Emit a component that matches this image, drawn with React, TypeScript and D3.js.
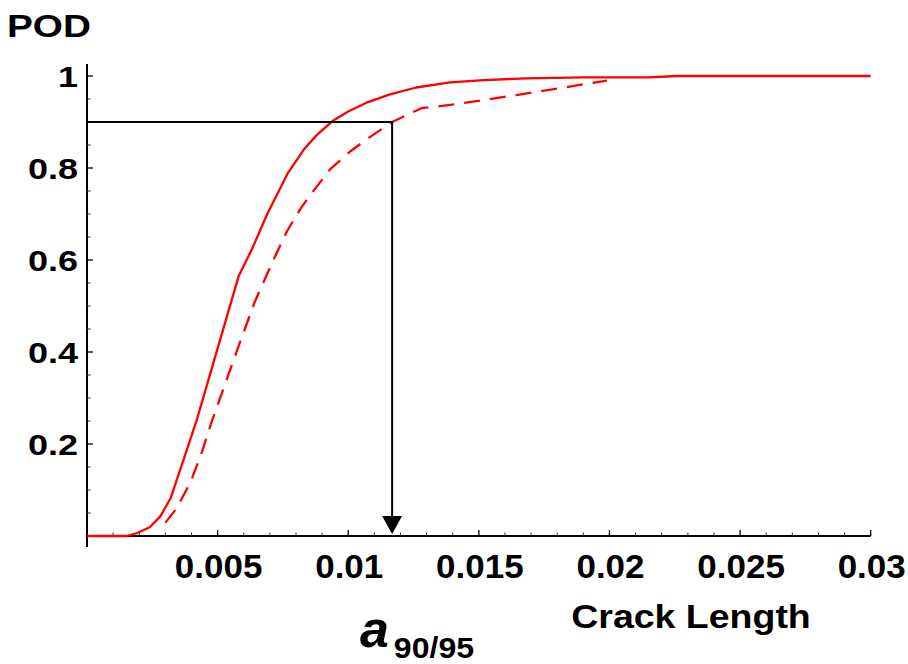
import React from "react";
import * as d3 from "d3";

// POD curve (solid) : crack length vs POD
const solidA = [0, 0.0015, 0.0019, 0.0024, 0.0028, 0.0032, 0.00375, 0.0042, 0.005, 0.0058, 0.0063, 0.0069, 0.0077, 0.0083, 0.0088, 0.0094, 0.01, 0.0107, 0.0116, 0.0126, 0.0139, 0.0152, 0.0168, 0.019, 0.0215, 0.0226, 0.03];
const solidP = [0, 0, 0.006, 0.019, 0.042, 0.082, 0.175, 0.252, 0.408, 0.564, 0.622, 0.7, 0.79, 0.84, 0.872, 0.902, 0.923, 0.942, 0.96, 0.975, 0.986, 0.991, 0.995, 0.997, 0.997, 1.0, 1.0];

// 95% confidence bound (dashed)
const dashA = [0.003, 0.00343, 0.00397, 0.0044, 0.00477, 0.0058, 0.0064, 0.0071, 0.00765, 0.0082, 0.0086, 0.0093, 0.0101, 0.0108, 0.01168, 0.0128, 0.0139, 0.0165, 0.0199];
const dashP = [0.029, 0.06, 0.118, 0.183, 0.248, 0.412, 0.506, 0.596, 0.662, 0.714, 0.745, 0.797, 0.837, 0.866, 0.9, 0.93, 0.937, 0.959, 0.99];

const a9095 = 0.01168;
const podLevel = 0.9;

const xTickValues = [0.005, 0.01, 0.015, 0.02, 0.025, 0.03];
const xTickLabels = ["0.005", "0.01", "0.015", "0.02", "0.025", "0.03"];
const yTickValues = [0.2, 0.4, 0.6, 0.8, 1];
const yTickLabels = ["0.2", "0.4", "0.6", "0.8", "1"];

const FONT = "'Liberation Sans', Arial, Helvetica, sans-serif";

export default function App() {
  const W = 908, H = 664;
  const x = d3.scaleLinear().domain([0, 0.03]).range([87, 870.7]);
  const y = d3.scaleLinear().domain([0, 1]).range([536, 76]);

  const line = d3.line<[number, number]>().x(d => x(d[0])).y(d => y(d[1]));
  const solid = line(solidA.map((a, i) => [a, solidP[i]] as [number, number])) || "";
  const dashed = line(dashA.map((a, i) => [a, dashP[i]] as [number, number])) || "";

  const xMinor = d3.range(1, 30).map(i => i * 0.001).filter(v => Math.abs(v / 0.005 - Math.round(v / 0.005)) > 1e-6);
  const yMinor = d3.range(1, 20).map(i => i * 0.05).filter(v => Math.abs(v / 0.2 - Math.round(v / 0.2)) > 1e-6);

  const ax = x(a9095);
  const ay = y(podLevel);
  const arrowBase = 516;

  return (
    <svg width={W} height={H} style={{ position: "absolute", left: 0, top: 0, background: "#fff" }} fontFamily={FONT}>
      <rect x={0} y={0} width={W} height={H} fill="#fff" />
      {/* axes */}
      <line x1={x(0)} x2={x(0)} y1={64} y2={547} stroke="#000" strokeWidth={2} />
      <line x1={x(0) - 1} x2={x(0.03)} y1={y(0)} y2={y(0)} stroke="#000" strokeWidth={2} />
      {/* y ticks */}
      {yTickValues.map(v => (
        <line key={"ym" + v} x1={x(0)} x2={x(0) + 6} y1={y(v)} y2={y(v)} stroke="#000" strokeWidth={1.3} />
      ))}
      {yMinor.map(v => (
        <line key={"yn" + v} x1={x(0)} x2={x(0) + 3.5} y1={y(v)} y2={y(v)} stroke="#333" strokeWidth={1} />
      ))}
      {/* x ticks */}
      {xTickValues.map(v => (
        <line key={"xm" + v} x1={x(v)} x2={x(v)} y1={y(0)} y2={y(0) - 6} stroke="#000" strokeWidth={1.3} />
      ))}
      {xMinor.map(v => (
        <line key={"xn" + v} x1={x(v)} x2={x(v)} y1={y(0)} y2={y(0) - 3.5} stroke="#333" strokeWidth={1} />
      ))}
      {/* y tick labels */}
      {yTickValues.map((v, i) => (
        <text key={"yl" + v} transform={`translate(78,${y(v) + 11}) scale(1.2,1)`} textAnchor="end" fontSize={30} fontWeight="bold">{yTickLabels[i]}</text>
      ))}
      {/* x tick labels */}
      {xTickValues.map((v, i) => (
        <text key={"xl" + v} transform={`translate(${x(v) + 1},578) scale(1.06,1)`} textAnchor="middle" fontSize={33} fontWeight="bold">{xTickLabels[i]}</text>
      ))}
      {/* curves */}
      <path d={dashed} fill="none" stroke="#ff0000" strokeWidth={2.3} strokeDasharray="16,10" strokeLinejoin="round" />
      <path d={solid} fill="none" stroke="#ff0000" strokeWidth={2.3} strokeLinejoin="round" />
      {/* a90/95 construction */}
      <polyline points={`${x(0)},${ay} ${ax},${ay} ${ax},${arrowBase}`} fill="none" stroke="#000" strokeWidth={2} />
      <polygon points={`${ax - 10},${arrowBase} ${ax + 10},${arrowBase} ${ax},${y(0) - 2}`} fill="#000" />
      {/* labels */}
      <text transform="translate(49,37) scale(1.25,1)" textAnchor="middle" fontSize={31} fontWeight="bold">POD</text>
      <text transform="translate(691,628) scale(1.15,1)" textAnchor="middle" fontSize={32.6} fontWeight="bold">Crack Length</text>
      <text x={360} y={647} fontSize={52} fontWeight="bold" fontStyle="italic">a</text>
      <text transform="translate(434,658) scale(1.07,1)" textAnchor="middle" fontSize={30} fontWeight="bold">90/95</text>
    </svg>
  );
}
